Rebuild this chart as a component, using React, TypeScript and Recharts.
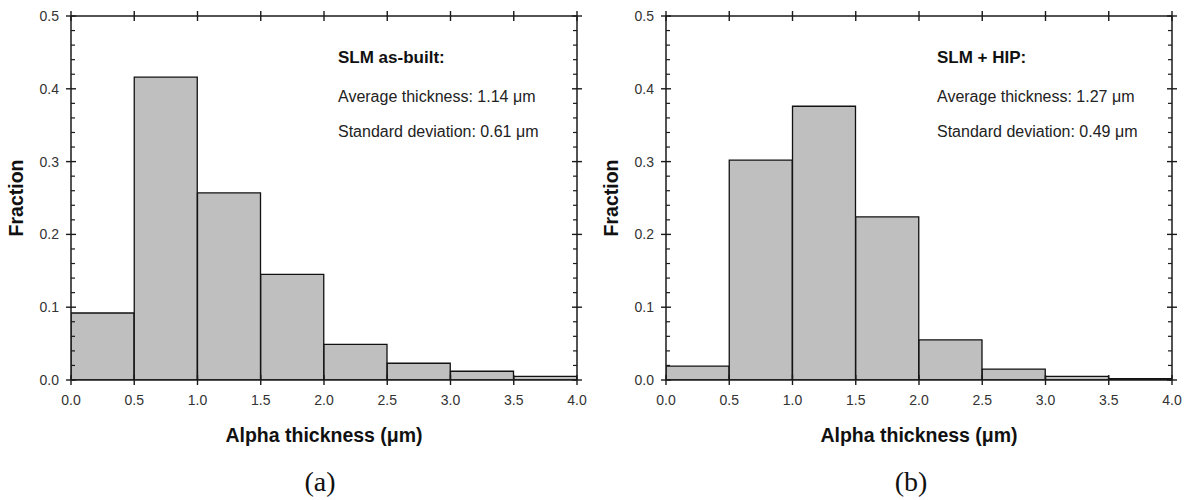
import React from "react";
import { BarChart, Bar, XAxis, YAxis } from "recharts";

// bin centres along the thickness axis (µm), bins are 0.5 wide
const BIN_MIDS = [0.25, 0.75, 1.25, 1.75, 2.25, 2.75, 3.25, 3.75];
const AS_BUILT = [0.092, 0.416, 0.257, 0.145, 0.049, 0.023, 0.012, 0.005];
const HIPPED = [0.019, 0.302, 0.376, 0.224, 0.055, 0.015, 0.005, 0.002];

const X_TICKS = [0, 0.5, 1, 1.5, 2, 2.5, 3, 3.5, 4];
const Y_TICKS = [
  0, 0.02, 0.04, 0.06, 0.08, 0.1, 0.12, 0.14, 0.16, 0.18, 0.2, 0.22, 0.24,
  0.26, 0.28, 0.3, 0.32, 0.34, 0.36, 0.38, 0.4, 0.42, 0.44, 0.46, 0.48, 0.5,
];

const INK = "#1a1a1a";
const LABEL = "#333";
const FILL = "#bfbfbf";
const SANS = "'Liberation Sans', Arial, sans-serif";

const isMajor = (v: number) => Math.abs(v * 10 - Math.round(v * 10)) < 1e-6;

function LeftTick({ x, y, payload }: any) {
  const v = payload.value;
  if (!isMajor(v)) return <line x1={x} x2={x + 4} y1={y} y2={y} stroke={INK} strokeWidth={1.2} />;
  return (
    <g>
      <line x1={x - 5} x2={x + 5} y1={y} y2={y} stroke={INK} strokeWidth={1.4} />
      <text x={x - 12} y={y} dy="0.35em" textAnchor="end" fontSize={14} fontFamily={SANS} fill={LABEL}>
        {v.toFixed(1)}
      </text>
    </g>
  );
}

function RightTick({ x, y, payload }: any) {
  const v = payload.value;
  if (!isMajor(v)) return <line x1={x - 4} x2={x} y1={y} y2={y} stroke={INK} strokeWidth={1.2} />;
  return <line x1={x - 5} x2={x + 5} y1={y} y2={y} stroke={INK} strokeWidth={1.4} />;
}

function BottomTick({ x, y, payload }: any) {
  return (
    <g>
      <line x1={x} x2={x} y1={y - 5} y2={y + 5} stroke={INK} strokeWidth={1.4} />
      <text x={x} y={y + 20} dy="0.35em" textAnchor="middle" fontSize={14} fontFamily={SANS} fill={LABEL}>
        {payload.value.toFixed(1)}
      </text>
    </g>
  );
}

function TopTick({ x, y }: any) {
  return <line x1={x} x2={x} y1={y - 5} y2={y + 5} stroke={INK} strokeWidth={1.4} />;
}

type PanelProps = {
  left: number;
  values: number[];
  title: string;
  avg: string;
  sd: string;
  noteX: number;
  caption: string;
  captionX: number;
};

function Panel({ left, values, title, avg, sd, noteX, caption, captionX }: PanelProps) {
  const data = BIN_MIDS.map((mid, i) => ({ mid, fraction: values[i] }));
  const axisLine = { stroke: INK, strokeWidth: 1.5 };
  return (
    <div style={{ position: "absolute", left, top: 0, width: 595, height: 500 }}>
      <BarChart width={595} height={500} data={data} barCategoryGap={0} barGap={0} margin={{ top: 15, right: 17, left: 0, bottom: 90 }}>
        <XAxis
          dataKey="mid"
          type="number"
          domain={[0, 4]}
          ticks={X_TICKS}
          allowDataOverflow
          interval={0}
          height={30}
          tickSize={0}
          tickMargin={0}
          tickLine={false}
          axisLine={axisLine}
          tick={(p: any) => <BottomTick {...p} />}
        />
        <XAxis
          xAxisId="top"
          dataKey="mid"
          orientation="top"
          type="number"
          domain={[0, 4]}
          ticks={X_TICKS}
          allowDataOverflow
          interval={0}
          height={1}
          tickSize={0}
          tickMargin={0}
          tickLine={false}
          axisLine={axisLine}
          tick={(p: any) => <TopTick {...p} />}
        />
        <YAxis
          dataKey="fraction"
          domain={[0, 0.5]}
          ticks={Y_TICKS}
          allowDataOverflow
          interval={0}
          width={71}
          tickSize={0}
          tickMargin={0}
          tickLine={false}
          axisLine={axisLine}
          tick={(p: any) => <LeftTick {...p} />}
        />
        <YAxis
          yAxisId="right"
          dataKey="fraction"
          orientation="right"
          domain={[0, 0.5]}
          ticks={Y_TICKS}
          allowDataOverflow
          interval={0}
          width={1}
          tickSize={0}
          tickMargin={0}
          tickLine={false}
          axisLine={axisLine}
          tick={(p: any) => <RightTick {...p} />}
        />
        <Bar dataKey="fraction" fill={FILL} stroke="#111" strokeWidth={1.3} isAnimationActive={false} />
      </BarChart>

      <div
        style={{
          position: "absolute",
          left: 17,
          top: 198,
          transform: "translate(-50%, -50%) rotate(-90deg)",
          fontFamily: SANS,
          fontWeight: "bold",
          fontSize: 19.5,
          lineHeight: 1,
          color: "#111",
          whiteSpace: "nowrap",
        }}
      >
        Fraction
      </div>

      <div style={{ position: "absolute", left: noteX, top: 48.6, fontFamily: SANS, fontWeight: "bold", fontSize: 17, lineHeight: 1, color: "#111", whiteSpace: "nowrap" }}>
        {title}
      </div>
      <div style={{ position: "absolute", left: noteX, top: 88.5, fontFamily: SANS, fontSize: 16, lineHeight: 1, color: "#222", whiteSpace: "nowrap" }}>
        {avg}
      </div>
      <div style={{ position: "absolute", left: noteX, top: 124, fontFamily: SANS, fontSize: 16, lineHeight: 1, color: "#222", whiteSpace: "nowrap" }}>
        {sd}
      </div>

      <div
        style={{
          position: "absolute",
          left: 324,
          top: 425.5,
          transform: "translateX(-50%)",
          fontFamily: SANS,
          fontWeight: "bold",
          fontSize: 19.5,
          lineHeight: 1,
          color: "#111",
          whiteSpace: "nowrap",
        }}
      >
        Alpha thickness (μm)
      </div>
      <div
        style={{
          position: "absolute",
          left: captionX,
          top: 468,
          transform: "translateX(-50%)",
          fontFamily: "'Liberation Serif', 'Times New Roman', serif",
          fontSize: 28,
          lineHeight: 1,
          color: "#111",
          whiteSpace: "nowrap",
        }}
      >
        {caption}
      </div>
    </div>
  );
}

export default function App() {
  return (
    <div style={{ position: "absolute", left: 0, top: 0, width: 1189, height: 500, background: "#fff", overflow: "hidden" }}>
      <Panel
        left={0}
        values={AS_BUILT}
        title="SLM as-built:"
        avg="Average thickness: 1.14 μm"
        sd="Standard deviation: 0.61 μm"
        noteX={338}
        caption="(a)"
        captionX={320}
      />
      <Panel
        left={595}
        values={HIPPED}
        title="SLM + HIP:"
        avg="Average thickness: 1.27 μm"
        sd="Standard deviation: 0.49 μm"
        noteX={342}
        caption="(b)"
        captionX={316}
      />
    </div>
  );
}
